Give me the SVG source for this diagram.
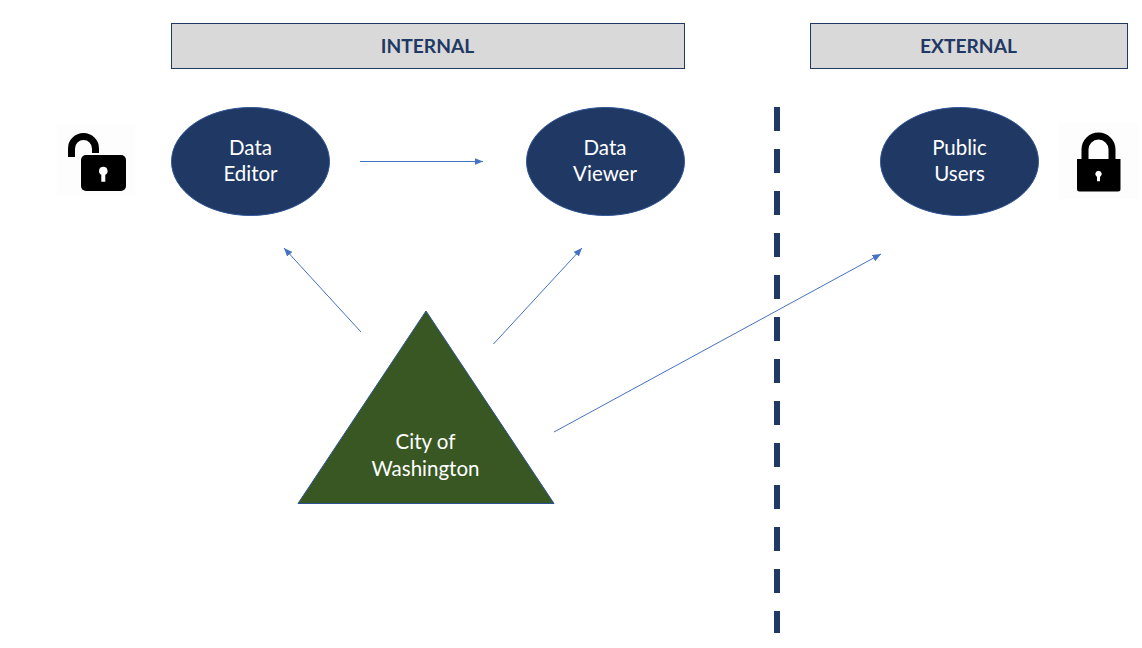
<svg xmlns="http://www.w3.org/2000/svg" width="1142" height="648" viewBox="0 0 1142 648">
<style>
text{font-family:"Lato","Open Sans","Liberation Sans",sans-serif;text-anchor:middle}
.hdr{fill:#d9d9d9;stroke:#1f3864;stroke-width:1}
.hdrt{fill:#1f3864;font-size:19.2px;font-weight:700}
.oval{fill:#1f3864;stroke:#2f5597;stroke-width:1}
.lbl{fill:#fff;font-size:20.500px}
.conn{fill:none;stroke:#4472c4;stroke-width:1;marker-end:url(#arr)}
.ic{fill:#000}
.bg{fill:#fdfdfd}
</style>
<defs>
<marker id="arr" markerUnits="userSpaceOnUse" markerWidth="9" markerHeight="8" refX="8.5" refY="3.5" orient="auto"><path d="M0 0L8.5 3.500L0 7Z" fill="#4472c4"/></marker>
</defs>
<rect width="1142" height="648" fill="#fff"/>
<g id="header-internal"><rect class="hdr" x="171.500" y="23.500" width="513" height="45"/><text class="hdrt" x="427.500" y="53">INTERNAL</text></g>
<g id="header-external"><rect class="hdr" x="810.500" y="23.500" width="317" height="45"/><text class="hdrt" x="968.500" y="53">EXTERNAL</text></g>
<g id="data-editor"><ellipse class="oval" cx="250.500" cy="161.500" rx="79" ry="54"/><text class="lbl" x="250.500" y="155">Data</text><text class="lbl" x="250.500" y="181">Editor</text></g>
<g id="data-viewer"><ellipse class="oval" cx="605.500" cy="161.500" rx="79" ry="54"/><text class="lbl" x="605" y="155">Data</text><text class="lbl" x="605" y="181">Viewer</text></g>
<g id="public-users"><ellipse class="oval" cx="959.500" cy="161.500" rx="79" ry="54"/><text class="lbl" x="959.500" y="155">Public</text><text class="lbl" x="959.500" y="181">Users</text></g>
<g id="city-of-washington"><path d="M426 311L554 503.500H298Z" fill="#385723" stroke="#2f5597" stroke-width="1"/><text class="lbl" x="425.500" y="449">City of</text><text class="lbl" x="425.500" y="476">Washington</text></g>
<g id="divider"><line x1="777" y1="107" x2="777" y2="633" stroke="#1f3864" stroke-width="6" stroke-dasharray="24 18"/></g>
<g id="connectors">
<line class="conn" x1="360" y1="161.500" x2="483" y2="161.500"/>
<line class="conn" x1="361" y1="332" x2="284" y2="248"/>
<line class="conn" x1="493.500" y1="344" x2="582" y2="248"/>
<line class="conn" x1="554" y1="432" x2="881" y2="254"/>
</g>
<g id="lock-open">
<rect class="bg" x="57" y="124" width="78" height="72"/>
<path d="M71.500 157V148.500A12 12 0 0 1 95.500 148.500V153" fill="none" stroke="#000" stroke-width="7"/>
<rect class="ic" x="81" y="155" width="45" height="36" rx="5"/>
<path d="M103.300 166.700a4.300 4.300 0 0 1 2 8.100v6.900h-4v-6.900a4.300 4.300 0 0 1 2-8.100z" fill="#fff"/>
</g>
<g id="lock-closed">
<rect class="bg" x="1059" y="123" width="79" height="76"/>
<path d="M1085 160V149.500A13.500 13.500 0 0 1 1112 149.500V160" fill="none" stroke="#000" stroke-width="7"/>
<path class="ic" d="M1077 159H1120.500V189Q1120.500 191.500 1118 191.500H1079.500Q1077 191.500 1077 189Z"/>
<path d="M1098.500 170.700a3.300 3.300 0 0 1 1.500 6.200v4.300h-3v-4.300a3.300 3.300 0 0 1 1.500-6.200z" fill="#fff"/>
</g>
</svg>
